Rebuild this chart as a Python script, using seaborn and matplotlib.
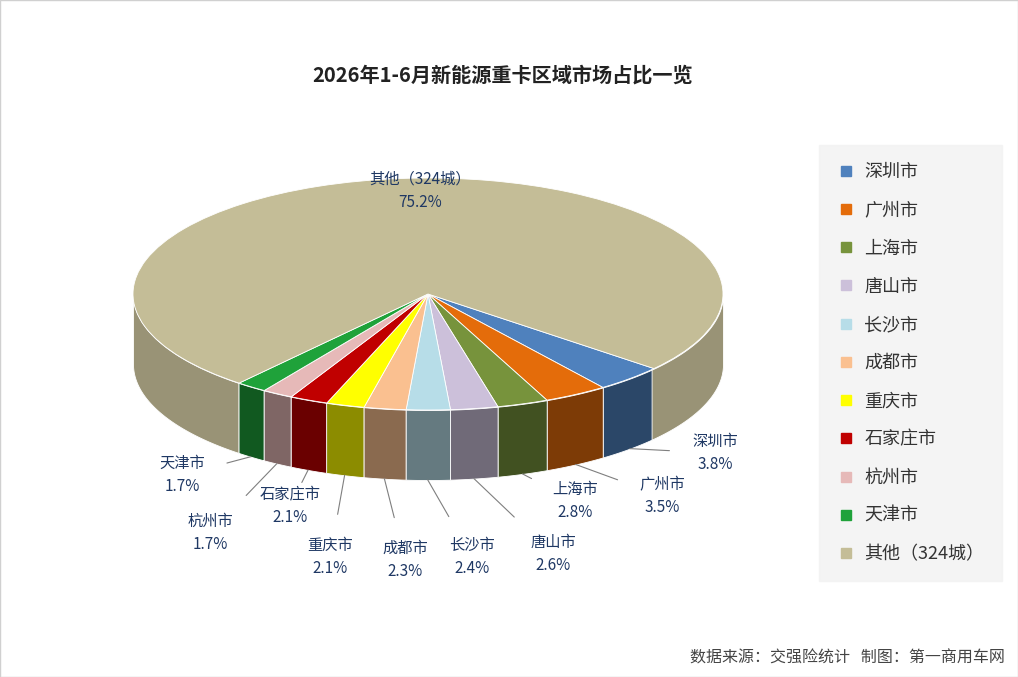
import numpy as np
import matplotlib
matplotlib.use("Agg")
import matplotlib.pyplot as plt
import seaborn as sns
from matplotlib.lines import Line2D

sns.set_theme(style="white")
plt.rcParams['font.family'] = ['Noto Sans CJK SC', 'DejaVu Sans']

title = "2026年1-6月新能源重卡区域市场占比一览"
cities = ["深圳市", "广州市", "上海市", "唐山市", "长沙市", "成都市", "重庆市", "石家庄市", "杭州市", "天津市", "其他（324城）"]
shares = [3.8, 3.5, 2.8, 2.6, 2.4, 2.3, 2.1, 2.1, 1.7, 1.7, 75.2]
colors = ["#4f81bd", "#e46c0a", "#77933c", "#ccc0da", "#b7dde8", "#fac090",
          "#ffff00", "#c00000", "#e6b9b8", "#1fa23a", "#c4bd97"]
label_px = [(715, 440), (662, 483), (575, 488), (553, 541), (472, 544), (405, 547),
            (330, 544), (290, 493), (210, 520), (182, 462), (420, 178)]

W, H = 1018, 677
fig = plt.figure(figsize=(W/100, H/100), dpi=100, facecolor="white")
fig.add_artist(plt.Rectangle((0, 0), 1, 1, transform=fig.transFigure, fill=False, ec="#d0d0d0", lw=1))

cx, cy, rx, ry, dep = 428, 294, 295, 116, 70
d = dep/ry
ax = fig.add_axes([(cx-rx)/W, (H-(cy+ry+dep))/H, 2*rx/W, ry*(2+d)/H])
start = -40
ax.pie(shares, colors=colors, startangle=start, counterclock=False, radius=1,
       wedgeprops=dict(edgecolor="white", linewidth=0.6))
ax.set_aspect('auto')
ax.set_xlim(-1, 1)
ax.set_ylim(-1-d, 1)
ax.axis('off')

def dark(c, f):
    r, g, b = matplotlib.colors.to_rgb(c)
    return (r*f, g*f, b*f)

cum = np.cumsum([0]+shares)
angles = []
for i, s in enumerate(shares):
    a1 = start - cum[i]*3.6
    a2 = start - cum[i+1]*3.6
    angles.append((a1, a2))
    f = 0.78 if i == len(shares)-1 else 0.55
    for off in (0, 360):
        lo, hi = max(a2+off, -180), min(a1+off, 0)
        if hi > lo:
            t = np.radians(np.linspace(lo, hi, 60))
            x = np.cos(t); y = np.sin(t)
            ax.fill_between(x, y, y-d, color=dark(colors[i], f), lw=0.6,
                            edgecolor="white", zorder=0)

navy = "#1f3864"
for i, (c, s) in enumerate(zip(cities, shares)):
    lx, ly = label_px[i]
    if i == len(cities)-1:
        ax.annotate(f"{c}\n{s}%", xy=(0, 0), xytext=(lx, H-ly-13), textcoords='figure pixels',
                    ha='center', va='center', fontsize=11, style='italic', color=navy,
                    linespacing=1.5, xycoords='data', annotation_clip=False)
        continue
    a1, a2 = angles[i]
    tm = np.radians((a1+a2)/2)
    px, py = np.cos(tm), np.sin(tm)-d
    ax.annotate(f"{c}\n{s}%", xy=(px, py), xytext=(lx, H-ly-13), textcoords='figure pixels',
                ha='center', va='center', fontsize=11, style='italic', color=navy, linespacing=1.5,
                arrowprops=dict(arrowstyle='-', color="#7f7f7f", lw=0.8, shrinkA=14, shrinkB=0))

fig.text(503/W, 1-75/H, title, ha='center', va='center', fontsize=14.5, fontweight='bold', color="#222222")

handles = [Line2D([0], [0], marker='s', ls='', color=c, markersize=7) for c in colors]
leg = fig.legend(handles, cities, loc='upper left', bbox_to_anchor=(810/W, 1-136/H),
                 frameon=True, fontsize=13, labelspacing=1.12, handletextpad=0.5,
                 borderpad=1.0, handlelength=1.0, fancybox=False)
leg.get_frame().set_facecolor("#f2f2f2")
leg.get_frame().set_edgecolor("#f2f2f2")
for t in leg.get_texts():
    t.set_color("#333333")

fig.text(1005/W, 1-658/H, "数据来源：交强险统计   制图：第一商用车网", ha='right', va='center',
         fontsize=11.5, color="#444444")
fig.savefig("out.png", dpi=100)
